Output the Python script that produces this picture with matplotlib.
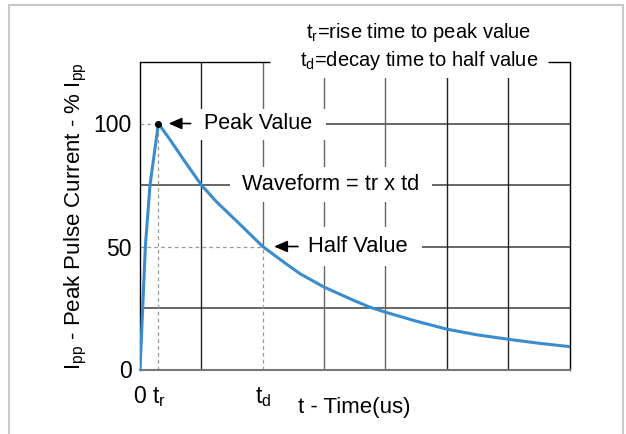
#importing libraries
import numpy as np
import matplotlib.pyplot as plt
from matplotlib.patches import Rectangle

plt.rcParams['font.family'] = ['Liberation Sans', 'DejaVu Sans']
plt.rcParams['mathtext.fontset'] = 'custom'
plt.rcParams['mathtext.rm'] = 'Liberation Sans'

#pulse waveform (time in grid units, current in % of Ipp)
t_us = np.array([0, 0.044, 0.087, 0.163, 0.30, 0.49, 0.71, 1.0, 1.25, 1.58, 2.0, 2.39,
                 2.61, 3.0, 3.5, 3.75, 4.0, 4.51, 5.0, 5.49, 6.0, 6.49, 7.0])
ipp = np.array([0, 25, 50, 75, 100, 93.4, 85.3, 75, 68.1, 60.2, 50, 42.8,
                38.9, 33.5, 27.9, 25.3, 23.3, 19.6, 16.4, 14.1, 12.3, 10.7, 9.3])

t_rise = 0.30
t_decay = 2.0
peak = 100
half = 50

xtick_pos = [0, t_rise, t_decay]
xtick_labels = ['0', r'$\mathregular{t_r}$', r'$\mathregular{t_d}$']
ytick_pos = [0, 50, 100]
ytick_labels = ['0', '50', '100']

fig = plt.figure(figsize=(6.26, 4.34), dpi=100)
ax = fig.add_axes([140/626, 1 - 369.5/434, 429.5/626, 307.5/434])
ax.set_xlim(0, 7)
ax.set_ylim(0, 125)

#outer frame
fig.patches.append(Rectangle((9/626, -0.1), 614/626, 1.1 - 5/434, transform=fig.transFigure,
                             fill=False, edgecolor='#c8c8c8', lw=1.5))

#grid
grid_gray = '#666666'
ax.hlines(25, 0, 7, color=grid_gray, lw=1.4, zorder=1)
ax.hlines(75, 0, 7, color=grid_gray, lw=1.4, zorder=1)
ax.hlines(half, t_decay, 7, color=grid_gray, lw=1.4, zorder=1)
ax.hlines(peak, t_rise, 7, color=grid_gray, lw=1.4, zorder=1)
ax.vlines([1, 5, 6], 0, 125, color='#222222', lw=1, zorder=1)
ax.vlines([3, 4], 0, 125, color=grid_gray, lw=1, zorder=1)
ax.vlines(t_decay, half, 125, color=grid_gray, lw=1, zorder=1)

#dashed markers
dash = dict(color='#999999', lw=0.9, ls=(0, (3, 2.5)), zorder=1)
ax.vlines(t_rise, 0, peak, **dash)
ax.hlines(peak, 0, t_rise, **dash)
ax.vlines(t_decay, 0, half, **dash)
ax.hlines(half, 0, t_decay, **dash)

#white boxes behind the labels
for x0, y0, x1, y1 in [(0.34, 93.4, 3.03, 105.7), (1.47, 68.2, 4.76, 82.4),
                       (2.03, 42.0, 4.59, 58.0), (2.12, 118.3, 6.65, 130)]:
    ax.add_patch(Rectangle((x0, y0), x1 - x0, y1 - y0, facecolor='white',
                           edgecolor='none', zorder=2, clip_on=False))

#spines
for s in ['left', 'right']:
    ax.spines[s].set_color('black')
    ax.spines[s].set_linewidth(1)
ax.spines['bottom'].set_color('#777777')
ax.spines['bottom'].set_linewidth(1.5)
ax.spines['top'].set_visible(False)
ax.hlines(125, 0, 2.12, color='black', lw=1, clip_on=False, zorder=3)
ax.hlines(125, 6.65, 7, color='black', lw=1, clip_on=False, zorder=3)

#waveform
ax.plot(t_us, ipp, color='#3a8ccd', lw=2.2, zorder=4, solid_joinstyle='round')
ax.plot([t_rise], [peak], 'o', color='black', ms=4, zorder=5)

#annotations
arrow = dict(arrowstyle='-|>,head_length=0.8,head_width=0.35', color='black', lw=1.2)
ax.annotate('', xy=(0.42, peak), xytext=(0.87, peak), arrowprops=arrow, zorder=5)
ax.annotate('', xy=(2.14, half), xytext=(2.62, half), arrowprops=arrow, zorder=5)
ax.text(1.05, peak, 'Peak Value', fontsize=15.5, va='center', ha='left', zorder=5)
ax.text(3.1, 75, 'Waveform = tr x td', fontsize=15.7, va='center', ha='center', zorder=5)
ax.text(2.74, half, 'Half Value', fontsize=15.8, va='center', ha='left', zorder=5)
fig.text(419/626, 1 - 33/434, r'$\mathregular{t_r}$=rise time to peak value',
         fontsize=14.5, ha='center', va='center')
fig.text(419/626, 1 - 60/434, r'$\mathregular{t_d}$=decay time to half value',
         fontsize=14.5, ha='center', va='center', zorder=5)

#ticks and labels
ax.set_xticks(xtick_pos, xtick_labels)
ax.set_yticks(ytick_pos, ytick_labels)
ax.tick_params(axis='both', length=0, labelsize=16.5)
ax.tick_params(axis='x', pad=11)
ax.tick_params(axis='y', pad=6)
ax.set_xlabel('t - Time(us)', fontsize=16)
ax.xaxis.set_label_coords(0.5, -0.088)
ax.set_ylabel(r'$\mathregular{I_{pp}}$ - Peak Pulse Current - % $\mathregular{I_{pp}}$',
              fontsize=16)
ax.yaxis.set_label_coords(-0.118, 0.5)

plt.savefig('out.png', dpi=100)
